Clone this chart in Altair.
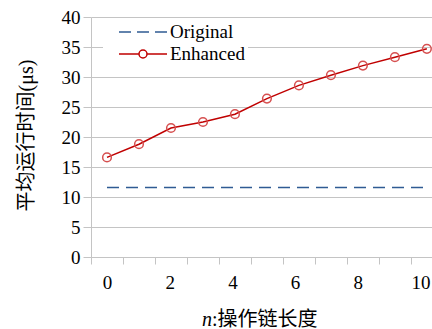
import altair as alt
import pandas as pd

# ---- data ----
n_values = list(range(11))
enhanced_values = [16.6, 18.8, 21.5, 22.5, 23.8, 26.4, 28.6, 30.3, 31.9, 33.3, 34.7]
original_values = [11.6] * 11
series_names = ["Original", "Enhanced"]
y_tick_values = [0, 5, 10, 15, 20, 25, 30, 35, 40]
x_tick_values = [-0.5, 0.5, 1.5, 2.5, 3.5, 4.5, 5.5, 6.5, 7.5, 8.5, 9.5]
x_label_numbers = [0, 2, 4, 6, 8, 10]
x_label_step = 0.98  # labels in the reference sit slightly left of their categories
x_label_positions = [k * x_label_step for k in x_label_numbers]
x_title_var = "n"
x_title_rest = ":操作链长度"
y_title = "平均运行时间(μs)"

FONT = "Liberation Serif, Times New Roman, Noto Sans CJK SC, serif"
BLUE = "#2f5b93"
RED = "#c00000"
MARKER = "#d65050"
GRID = "#c4c4c4"
FS = 19

rows = []
for n, v in zip(n_values, original_values):
    rows.append({"n": n, "value": v, "series": "Original"})
for n, v in zip(n_values, enhanced_values):
    rows.append({"n": n, "value": v, "series": "Enhanced"})
df = pd.DataFrame(rows)
df_orig = df[df["series"] == "Original"]
df_enh = df[df["series"] == "Enhanced"]

x_scale = alt.Scale(domain=[-0.5, 10.16], nice=False, zero=False)
y_scale = alt.Scale(domain=[0, 40], nice=False)

x_axis = alt.Axis(
    values=x_tick_values + x_label_positions,
    labelExpr=f"abs(datum.value % 1) === 0.5 ? '' : format(round(datum.value / {x_label_step}), 'd')",
    tickOpacity={"condition": {"test": "abs(datum.value % 1) === 0.5", "value": 1}, "value": 0},
    labelOverlap=False,
    grid=False,
    tickSize=7,
    tickColor=GRID,
    domainColor=GRID,
    labelFont=FONT,
    labelFontSize=FS,
    labelColor="black",
    labelPadding=9,
    title=None,
)
y_axis = alt.Axis(
    values=y_tick_values,
    grid=True,
    gridColor=GRID,
    tickSize=8,
    tickColor=GRID,
    domainColor=GRID,
    labelFont=FONT,
    labelFontSize=FS,
    labelColor="black",
    labelPadding=3,
    title=y_title,
    titleFont=FONT,
    titleFontSize=20,
    titleFontWeight="normal",
    titleColor="black",
    titleAngle=270,
    titleAlign="center",
    titleBaseline="middle",
    titleX=-65,
    titleY=118,
)

# legend sample symbols (path units are 10 px with symbolSize=400)
PATH_ORIG = "M0.2,0H1.4M2.0,0H3.2M3.8,0H5.0"
PATH_ENH = "M0.2,0H2.2M3.0,0H5.0M3.0,0A0.4,0.4,0,1,1,2.2,0A0.4,0.4,0,1,1,3.0,0"

legend = alt.Legend(
    orient="none",
    legendX=12,
    legendY=1,
    title=None,
    fillColor="white",
    padding=3,
    symbolSize=400,
    symbolStrokeWidth=1.5,
    symbolOpacity=1,
    labelFont=FONT,
    labelFontSize=FS,
    labelColor="black",
    labelOffset=42,
    labelLimit=200,
    rowPadding=1,
)

x_enc = alt.X("n:Q", scale=x_scale, axis=x_axis)
y_enc = alt.Y("value:Q", scale=y_scale, axis=y_axis)

line_orig = alt.Chart(df_orig).mark_line(strokeWidth=1.5, color=BLUE, strokeDash=[12, 7]).encode(x=x_enc, y=y_enc)
line_enh = alt.Chart(df_enh).mark_line(strokeWidth=1.5, color=RED).encode(x=x_enc, y=y_enc)

points = alt.Chart(df_enh).mark_point(filled=False, size=75, strokeWidth=1.5, color=MARKER, opacity=1).encode(
    x=x_enc, y=y_enc,
)

# invisible layer that only carries the legend (line sample + marker sample)
legend_layer = alt.Chart(df).mark_point(filled=False, opacity=0, strokeWidth=1.5).encode(
    x=x_enc,
    y=y_enc,
    color=alt.Color("series:N", scale=alt.Scale(domain=series_names, range=[BLUE, RED]), legend=legend),
    shape=alt.Shape("series:N", scale=alt.Scale(domain=series_names, range=[PATH_ORIG, PATH_ENH]), legend=legend),
)

title_data = pd.DataFrame({"a": [x_title_var], "b": [x_title_rest]})
title_n = alt.Chart(title_data).mark_text(
    font=FONT, fontSize=20, fontStyle="italic", align="left", baseline="middle", color="black"
).encode(text="a:N", x=alt.value(111), y=alt.value(303))
title_rest = alt.Chart(title_data).mark_text(
    font=FONT, fontSize=20, align="left", baseline="middle", color="black"
).encode(text="b:N", x=alt.value(121), y=alt.value(303))

chart = alt.layer(line_orig, line_enh, points, legend_layer, title_n, title_rest).properties(
    width=341,
    height=240,
    autosize=alt.AutoSizeParams(type="none"),
    padding={"left": 91, "top": 17, "right": 0, "bottom": 72},
    background="white",
).configure_view(stroke=None, fill="white")

chart.save("out.html", embed_options={"renderer": "svg", "actions": False})
